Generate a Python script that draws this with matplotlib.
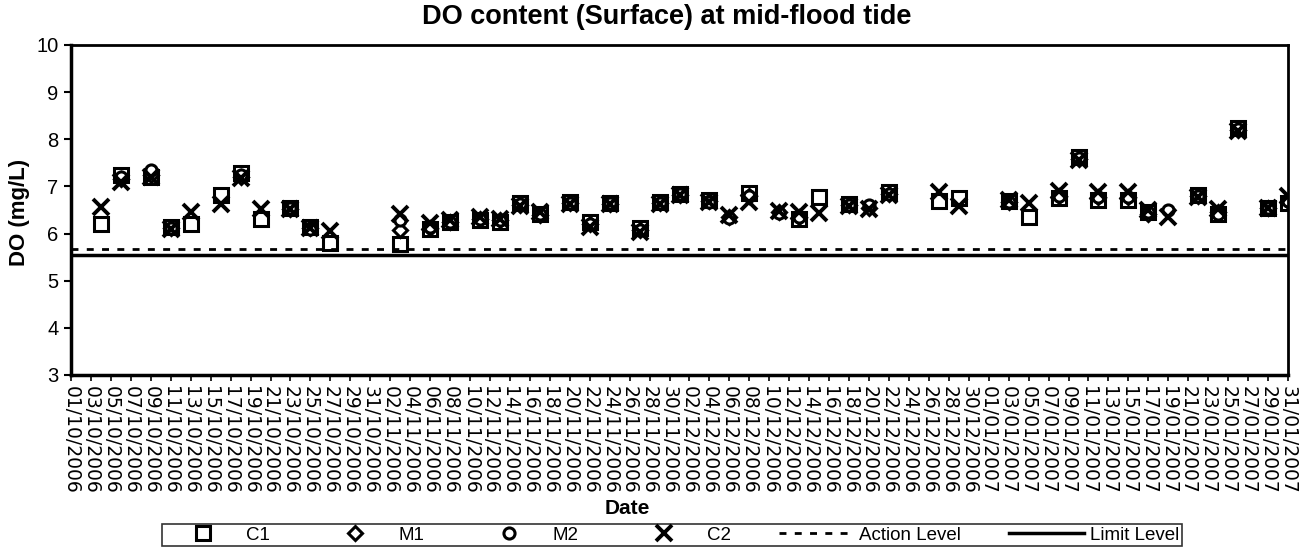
import matplotlib
matplotlib.use("Agg")
import matplotlib.pyplot as plt
import matplotlib.dates as mdates
import numpy as np
import datetime as dt

plt.rcParams['font.family'] = ['Liberation Sans', 'DejaVu Sans']

# ---- data (day offsets from 01/10/2006) ----
day_offsets = [3, 5, 8, 10, 12, 15, 17, 19, 22, 24, 26, 33, 36, 38, 41, 43, 45, 47,
               50, 52, 54, 57, 59, 61, 64, 66, 68, 71, 73, 75, 78, 80, 82, 87, 89,
               94, 96, 99, 101, 103, 106, 108, 110, 113, 115, 117, 120, 122]
nan = np.nan
c1 = [6.20, 7.25, 7.20, 6.15, 6.20, 6.82, 7.28, 6.30, 6.55, 6.15, 5.80, 5.78, 6.10, 6.25,
      6.28, 6.25, 6.65, 6.42, 6.68, 6.25, 6.65, 6.12, 6.68, 6.85, 6.72, nan, 6.86, nan,
      6.30, 6.78, 6.62, nan, 6.88, 6.70, 6.75, 6.70, 6.36, 6.75, 7.62, 6.72, 6.72, 6.45,
      nan, 6.82, 6.42, 8.25, 6.55, 6.65]
m1 = [nan, 7.15, 7.25, 6.12, nan, nan, 7.20, nan, 6.52, 6.12, nan, 6.07, 6.12, 6.25,
      6.30, 6.28, 6.60, 6.40, 6.65, 6.20, 6.62, 6.08, 6.65, 6.82, 6.70, 6.35, 6.80, 6.45,
      6.35, nan, 6.60, 6.55, 6.85, nan, nan, 6.68, nan, 6.80, 7.58, 6.78, 6.78, 6.42,
      nan, 6.80, 6.45, 8.20, 6.55, 6.70]
m2 = [nan, 7.20, 7.35, 6.12, nan, nan, 7.25, nan, 6.55, 6.10, nan, 6.28, 6.15, 6.25,
      6.30, 6.28, 6.62, 6.42, 6.65, 6.20, 6.65, 6.08, 6.65, 6.85, 6.68, 6.33, 6.80, 6.43,
      6.35, nan, 6.60, 6.60, 6.85, nan, nan, 6.68, nan, 6.80, 7.60, 6.78, 6.78, 6.45,
      6.50, 6.80, 6.42, 8.22, 6.55, 6.70]
c2 = [6.57, 7.10, 7.20, 6.10, 6.46, 6.62, 7.18, 6.52, 6.52, 6.12, 6.05, 6.42, 6.22, 6.28,
      6.35, 6.30, 6.58, 6.45, 6.62, 6.15, 6.62, 6.03, 6.62, 6.82, 6.66, 6.40, 6.66, 6.48,
      6.46, 6.43, 6.58, 6.52, 6.82, 6.88, 6.58, 6.72, 6.65, 6.90, 7.56, 6.88, 6.88, 6.50,
      6.35, 6.78, 6.52, 8.18, 6.55, 6.80]
action_level = 5.67
limit_level = 5.55

start = dt.datetime(2006, 10, 1)
end = dt.datetime(2007, 1, 31)
dates = [start + dt.timedelta(days=d) for d in day_offsets]
tick_dates = [start + dt.timedelta(days=d) for d in range(0, 123, 2)]

# ---- plotting ----
fig = plt.figure(figsize=(13.07, 5.51), dpi=100)
ax = fig.add_axes([71 / 1307, 1 - 375 / 551, 1217 / 1307, 330 / 551])

ax.plot(dates, c1, ls='none', marker='s', ms=10, mfc='white', mec='black', mew=2.2, label='C1')
ax.plot(dates, m1, ls='none', marker='D', ms=7, mfc='white', mec='black', mew=2.2, label='M1')
ax.plot(dates, m2, ls='none', marker='o', ms=8, mfc='white', mec='black', mew=2.2, label='M2')
ax.plot(dates, c2, ls='none', marker='x', ms=11, mec='black', mew=2.8, label='C2')
ax.axhline(action_level, color='black', ls=(0, (2.5, 3)), lw=2, label='Action Level')
ax.axhline(limit_level, color='black', ls='-', lw=2.5, label='Limit Level')

ax.set_xlim(start, end)
ax.set_ylim(3, 10)
ax.set_yticks(range(3, 11))
ax.set_xticks(tick_dates)
ax.xaxis.set_major_formatter(mdates.DateFormatter('%d/%m/%Y'))
ax.tick_params(axis='x', labelrotation=-90, labelsize=13.5, length=4, width=1.2,
               direction='out', pad=4)
for lbl in ax.get_xticklabels():
    lbl.set_fontfamily('DejaVu Sans')
ax.tick_params(axis='y', labelsize=14.5, length=5, width=1.5, direction='out', pad=4)

for side in ['left', 'bottom']:
    ax.spines[side].set_linewidth(2.5)
for side in ['top', 'right']:
    ax.spines[side].set_linewidth(2)

ax.set_ylabel('DO (mg/L)', fontsize=16, fontweight='bold')
ax.yaxis.set_label_coords(-0.034, 0.494)
ax.set_xlabel('Date', fontsize=15, fontweight='bold')
ax.xaxis.set_label_coords(0.457, -0.375)

fig.text(0.51, 0.97, 'DO content (Surface) at mid-flood tide', fontsize=19.5,
         fontweight='bold', ha='center', va='center')

handles, labels = ax.get_legend_handles_labels()
leg = fig.legend(handles, labels, loc='center', bbox_to_anchor=(672 / 1307, 1 - 535 / 551),
                 ncol=6, fontsize=13.5, frameon=True, fancybox=False, handlelength=4.0,
                 handletextpad=0.3, columnspacing=2.55, borderpad=0.15, borderaxespad=0)
leg.get_frame().set_edgecolor('black')
leg.get_frame().set_linewidth(1.2)

fig.savefig('out.png', dpi=100)
